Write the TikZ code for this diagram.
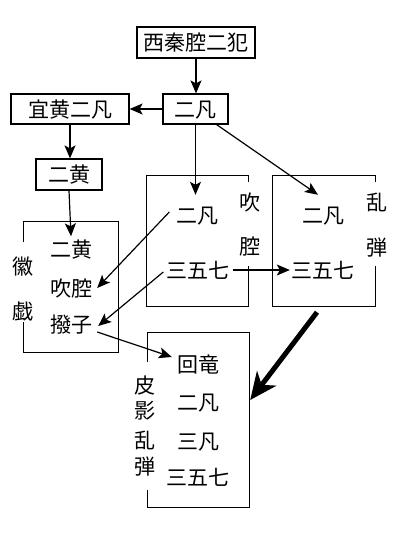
\documentclass[tikz,border=0pt]{standalone}
\usepackage{fontspec}
\newfontfamily\jpfont{Noto Sans CJK JP}
\usetikzlibrary{arrows.meta,calc}
\begin{document}
\begin{tikzpicture}[x=1pt,y=-1pt,
  every node/.style={font=\jpfont\fontsize{21}{21}\selectfont, inner sep=0pt, text height=18.5pt, text depth=2.5pt},
  box/.style={draw, line width=1.2pt, minimum height=31pt},
  area/.style={minimum width=#1},
  frame/.style={line width=1.2pt},
  arr/.style={line width=1.2pt, -{Stealth[length=13pt,width=11pt,inset=3pt]}},
  bigarr/.style={line width=5pt, -{Stealth[length=27pt,width=24pt,inset=8pt]}}
]
\fill[white] (0,0) rectangle (400,533);
\useasboundingbox (0,0) rectangle (400,533);

% closed boxes
\node[box, minimum width=118pt] (top) at (196,42.5) {西秦腔二犯};
\node[box, minimum width=65pt, minimum height=30pt] (ef) at (195.5,109) {二凡};
\node[box, minimum width=118pt, minimum height=30pt] (yh) at (70,109) {宜黄二凡};
\node[box, minimum width=66pt] (eh) at (69,174.5) {二黄};

% open frames (anchors)
\node[minimum width=101pt, minimum height=130pt] (cqbox) at (197.5,241) {};
\node[minimum width=102pt, minimum height=130pt] (ltbox) at (324,241) {};
\node[minimum width=94pt, minimum height=130pt] (hxbox) at (71,287) {};
\node[minimum width=101pt, minimum height=174pt] (pkbox) at (198.5,420) {};

\draw[frame] ($(cqbox.north east)+(0,6)$) -- (cqbox.north east) -- (cqbox.north west) -- (cqbox.south west) -- (cqbox.south east) -- ($(cqbox.south east)+(0,-40)$);
\draw[frame] ($(ltbox.north east)+(0,6)$) -- (ltbox.north east) -- (ltbox.north west) -- (ltbox.south west) -- (ltbox.south east) -- ($(ltbox.south east)+(0,-40)$);
\draw[frame] ($(hxbox.north west)+(0,20)$) -- (hxbox.north west) -- (hxbox.north east) -- (hxbox.south east) -- (hxbox.south west) -- ($(hxbox.south west)+(0,-30)$);
\draw[frame] ($(pkbox.north west)+(0,29)$) -- (pkbox.north west) -- (pkbox.north east) -- (pkbox.south east) -- (pkbox.south west) -- ($(pkbox.south west)+(0,-17)$);

% texts
\node (cq2f) at (197.5,215) {二凡};
\node (cq357) at (198,270) {三五七};
\node (cql1) at (250,202) {吹};
\node (cql2) at (250,246) {腔};
\node (lt2f) at (323,215) {二凡};
\node (lt357) at (323,270) {三五七};
\node (ltl1) at (377,202) {乱};
\node (ltl2) at (377,247) {弾};
\node (hx2h) at (71,249) {二黄};
\node (hxcq) at (71,288) {吹腔};
\node (hxbz) at (71,324) {撥子};
\node (hxl1) at (23,266) {徽};
\node (hxl2) at (23,311) {戯};
\node (pkhl) at (198,364) {回竜};
\node (pk2f) at (198,402) {二凡};
\node (pk3f) at (198,441) {三凡};
\node (pk357) at (197.5,477) {三五七};
\node (pkl1) at (145,385) {皮};
\node (pkl2) at (145,410) {影};
\node (pkl3) at (145,440) {乱};
\node (pkl4) at (145,466) {弾};

% arrows
\draw[arr] (top.south) -- (top.south |- ef.north);
\draw[arr] (ef.west) -- (yh.east);
\draw[arr] (yh.south) -- (yh.south |- eh.north);
\draw[arr] (eh.south) -- ($(hx2h.north)+(0,-2)$);
\draw[arr] (ef.south) -- ($(ef.south |- cq2f.north)+(0,-9.5)$);
\draw[arr] ($(ef.south east)+(-12,0)$) -- ($(lt2f.north)+(-5,-9.5)$);
\draw[arr] ($(cq2f.west)+(-7,-3)$) -- ($(hxcq.east)+(5,0)$);
\draw[arr] ($(cq357.west)+(-3,2)$) -- ($(hxbz.east)+(6,2)$);
\draw[arr] ($(cq357.east)+(3,0)$) -- ($(lt357.west)+(-1.5,0)$);
\draw[arr] ($(hxbz.east)+(5,8)$) -- ($(pkhl.west)+(-5,-7)$);
\draw[bigarr] ($(ltbox.south)+(-7,6)$) -- ($(pkbox.east)+(1,-20)$);
\end{tikzpicture}
\end{document}
